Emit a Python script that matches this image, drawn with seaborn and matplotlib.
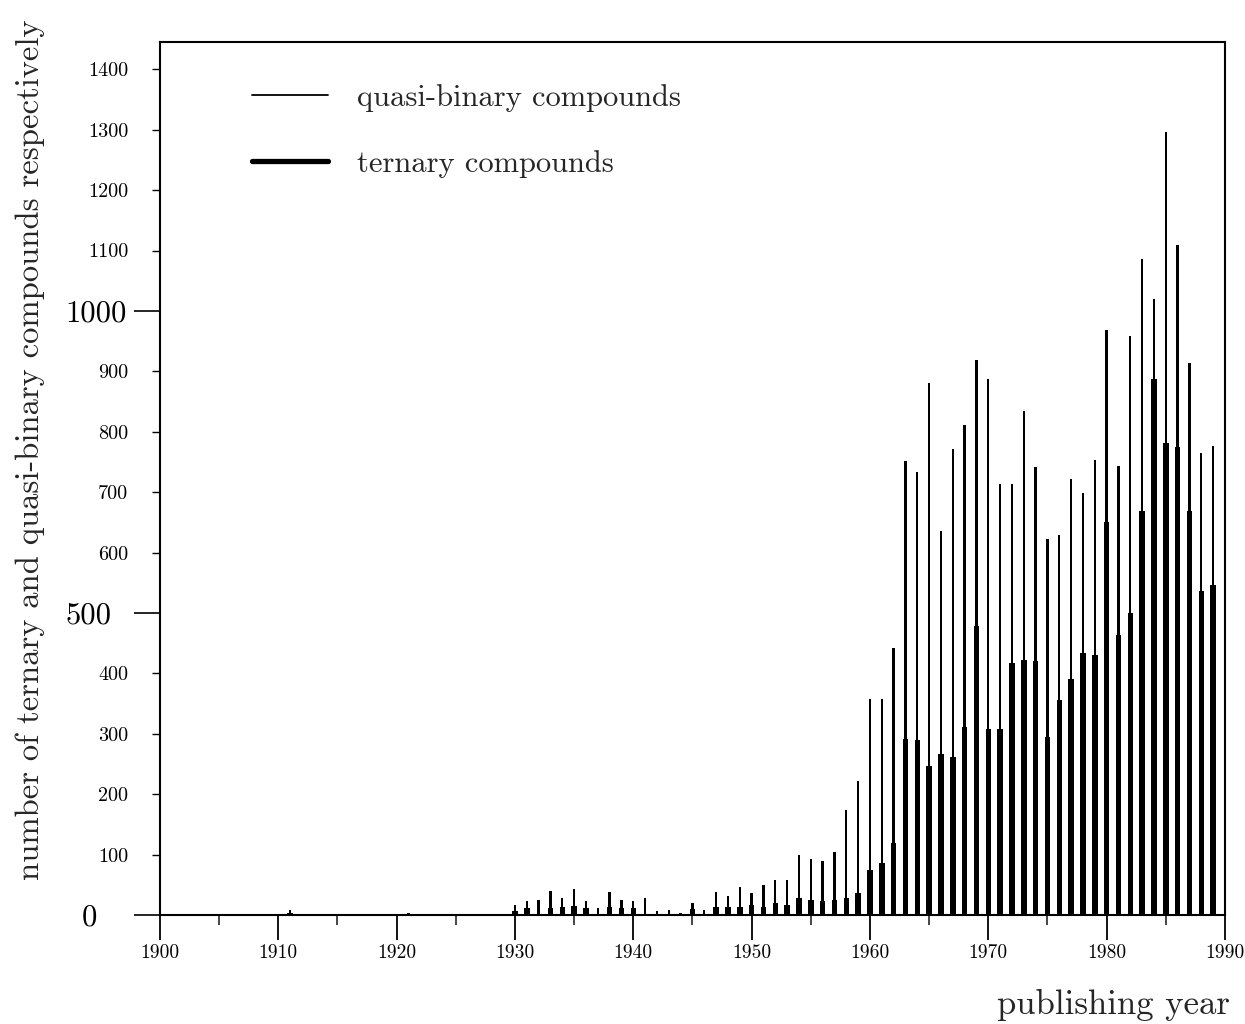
import numpy as np
import pandas as pd
import matplotlib
matplotlib.use('Agg')
import matplotlib.pyplot as plt
from matplotlib.lines import Line2D
import seaborn as sns

#%% data (one value per publishing year)
years = list(range(1900, 1990))

quasi_binary = [
    0, 0, 0, 0, 0, 0, 0, 0, 0, 0,            # 1900s
    0, 8, 0, 0, 0, 0, 0, 0, 0, 0,            # 1910s
    0, 4, 0, 0, 0, 0, 0, 0, 0, 0,            # 1920s
    16, 24, 25, 40, 29, 43, 24, 11, 38, 25,  # 1930s
    23, 28, 7, 8, 4, 20, 9, 38, 31, 46,      # 1940s
    37, 50, 58, 58, 99, 93, 89, 104, 174, 222,            # 1950s
    357, 357, 442, 752, 733, 880, 635, 771, 811, 919,     # 1960s
    888, 713, 713, 834, 741, 622, 629, 722, 699, 754,     # 1970s
    968, 743, 959, 1086, 1019, 1296, 1109, 913, 764, 776, # 1980s
]

ternary = [
    0, 0, 0, 0, 0, 0, 0, 0, 0, 0,
    0, 3, 0, 0, 0, 0, 0, 0, 0, 0,
    0, 0, 0, 0, 0, 0, 0, 0, 0, 0,
    6, 12, 0, 11, 14, 15, 11, 0, 14, 11,
    12, 0, 0, 0, 0, 10, 0, 13, 13, 14,
    17, 14, 20, 17, 28, 25, 24, 25, 29, 37,
    74, 86, 120, 292, 289, 246, 266, 261, 312, 478,
    308, 308, 418, 423, 421, 294, 356, 390, 433, 430,
    650, 463, 500, 668, 888, 782, 775, 668, 537, 546,
]

df = pd.DataFrame({'year': years, 'quasi': quasi_binary, 'ternary': ternary})

y_major = [0, 500, 1000]
y_minor = [100, 200, 300, 400, 600, 700, 800, 900, 1100, 1200, 1300, 1400]
x_major = list(range(1900, 1991, 10))
x_minor = list(range(1905, 1990, 10))

#%% styling
sns.set_theme(style='ticks')
plt.rcParams['font.family'] = ['cmr10', 'DejaVu Serif']
plt.rcParams['axes.formatter.use_mathtext'] = True
plt.rcParams['axes.unicode_minus'] = False

fig = plt.figure(figsize=(12.45, 10.24), dpi=100)
ax = fig.add_axes([0.1285, 0.1064, 0.8554, 0.8525])

# thin lines: quasi-binary, thick lines: ternary (same x position)
sns.barplot(data=df, x='year', y='quasi', native_scale=True, width=0.2,
            color='black', saturation=1, errorbar=None, linewidth=0, ax=ax)
sns.barplot(data=df, x='year', y='ternary', native_scale=True, width=0.46,
            color='black', saturation=1, errorbar=None, linewidth=0, ax=ax)

ax.set_xlim(1900, 1990)
ax.set_ylim(0, 1445)
ax.set_xlabel('')
ax.set_ylabel('')

for s in ax.spines.values():
    s.set_visible(True)
    s.set_color('black')
    s.set_linewidth(1.5)

# y ticks: big labels at 0/500/1000, small ones in between
ax.set_yticks(y_major)
ax.set_yticklabels([str(v) for v in y_major], fontsize=22)
ax.set_yticks(y_minor, minor=True)
ax.set_yticklabels([str(v) for v in y_minor], minor=True, fontsize=14.5)
ax.tick_params(axis='y', which='major', direction='out', length=19, width=1.2,
               pad=4, colors='black')
ax.tick_params(axis='y', which='minor', direction='out', length=6, width=1.0,
               pad=17, colors='black')
pads = [26, 16, 5]
for t, p in zip(ax.yaxis.get_major_ticks(), pads):
    t.set_pad(p)

# x ticks
ax.set_xticks(x_major)
ax.set_xticklabels([str(v) for v in x_major], fontsize=14)
ax.set_xticks(x_minor, minor=True)
ax.tick_params(axis='x', which='major', direction='out', length=18, width=1.3,
               pad=3, colors='black')
ax.tick_params(axis='x', which='minor', direction='out', length=7, width=1.2)

# legend with line handles
handles = [Line2D([], [], color='black', linewidth=1.3),
           Line2D([], [], color='black', linewidth=3.8)]
ax.legend(handles, ['quasi-binary compounds', 'ternary compounds'],
          loc='upper left', bbox_to_anchor=(0.086, 0.952), frameon=False,
          fontsize=22, handlelength=2.5, handletextpad=0.95, labelspacing=1.25,
          borderaxespad=0, borderpad=0)

fig.text(0.024, 1 - 450 / 1024,
         'number of ternary and quasi-binary compounds respectively',
         rotation=90, ha='center', va='center', fontsize=23.5)
fig.text(0.988, 0.003, 'publishing year', ha='right', va='bottom', fontsize=25)

fig.savefig('out.png', dpi=100)
